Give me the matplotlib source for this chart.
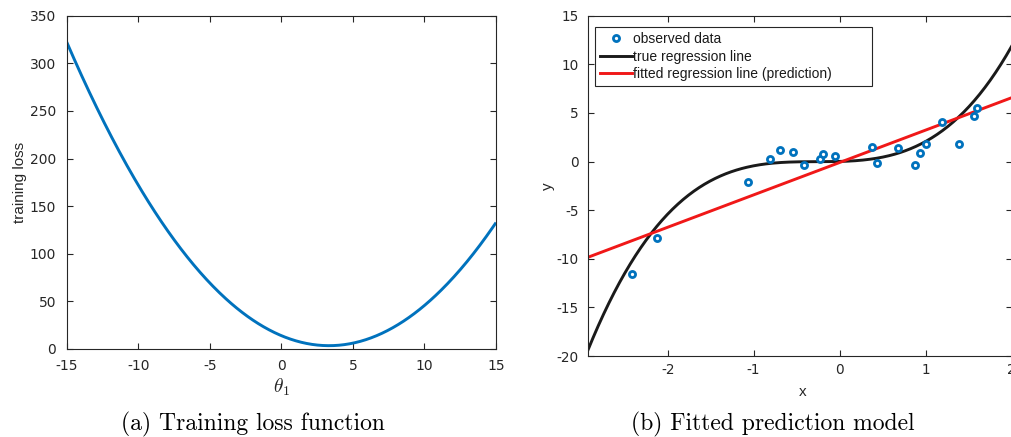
import numpy as np
import matplotlib

matplotlib.use("Agg")
import matplotlib.pyplot as plt

plt.rcParams["font.family"] = ["Liberation Sans", "DejaVu Sans"]
plt.rcParams["mathtext.fontset"] = "cm"

FIG_W, FIG_H = 1011, 437
AX_COLOR = "#262626"
BLUE = "#0072BD"
TICK_FONT = "DejaVu Sans"

# (a) training loss as a quadratic in theta_1: curvature, minimiser, minimum value
loss_curvature = 0.949
loss_argmin = 3.33
loss_min = 3.5
theta_range = [-15, 15]
loss_yticks = [0, 50, 100, 150, 200, 250, 300, 350]
theta_ticks = [-15, -10, -5, 0, 5, 10, 15]

# (b) observed samples
x_obs = [-2.42, -2.12, -1.06, -0.81, -0.69, -0.54, -0.41, -0.23, -0.19, -0.05,
         0.38, 0.43, 0.68, 0.88, 0.94, 1.01, 1.19, 1.39, 1.56, 1.60]
y_obs = [-11.57, -7.88, -2.15, 0.28, 1.17, 0.99, -0.34, 0.31, 0.79, 0.62,
         1.54, -0.17, 1.38, -0.34, 0.93, 1.79, 4.08, 1.79, 4.65, 5.47]

# true regression curve (cubic, highest power first) and fitted line
true_coeffs = [1.02, 0.80, 0.23, 0.01]
fit_slope = 3.33
fit_intercept = -0.10
x_range = [-2.93, 2.0]
y_range = [-20, 15]
x_ticks = [-2, -1, 0, 1, 2]
y_ticks = [-20, -15, -10, -5, 0, 5, 10, 15]


def px_axes(fig, left, top, right, bottom):
    """Add axes given a box in figure pixels (origin top-left)."""
    return fig.add_axes([left / FIG_W, 1 - bottom / FIG_H,
                         (right - left) / FIG_W, (bottom - top) / FIG_H])


def style_axes(ax, size, xpad, ypad):
    for spine in ax.spines.values():
        spine.set_color(AX_COLOR)
        spine.set_linewidth(0.8)
    ax.tick_params(direction="in", length=4.5, width=0.8, colors=AX_COLOR,
                   top=True, right=True)
    ax.tick_params(axis="x", pad=xpad)
    ax.tick_params(axis="y", pad=ypad)
    for label in ax.get_xticklabels() + ax.get_yticklabels():
        label.set_family(TICK_FONT)
        label.set_fontsize(size)


fig = plt.figure(figsize=(FIG_W / 100, FIG_H / 100), dpi=100)

# ---- (a) training loss ----
ax1 = px_axes(fig, 66.7, 15.7, 496, 349)
theta = np.linspace(theta_range[0], theta_range[1], 400)
loss = loss_curvature * (theta - loss_argmin) ** 2 + loss_min
ax1.plot(theta, loss, color=BLUE, lw=2.1, solid_capstyle="butt")
ax1.set_xlim(theta_range)
ax1.set_ylim(0, 350)
ax1.set_xticks(theta_ticks)
ax1.set_yticks(loss_yticks)
ax1.set_xticklabels([str(t) for t in theta_ticks])
ax1.set_yticklabels([str(t) for t in loss_yticks])
style_axes(ax1, 10, xpad=7.2, ypad=7.6)
ax1.set_xlabel(r"$\theta_1$", fontsize=14, color=AX_COLOR, labelpad=2.5)
ax1.set_ylabel("training loss", fontsize=11, color=AX_COLOR, labelpad=2.2)

# ---- (b) fitted prediction model ----
ax2 = px_axes(fig, 587.7, 15.7, 1011.5, 356)
xs = np.linspace(x_range[0], x_range[1], 400)
ax2.plot(x_obs, y_obs, "o", ls="none", mfc="white", mec=BLUE, mew=2.0, ms=4.4,
         label="observed data", zorder=3)
ax2.plot(xs, np.polyval(true_coeffs, xs), color="#1a1a1a", lw=2.1,
         label="true regression line")
ax2.plot(xs, fit_slope * xs + fit_intercept, color="#f01818", lw=2.1,
         label="fitted regression line (prediction)")
ax2.set_xlim(x_range)
ax2.set_ylim(y_range)
ax2.set_xticks(x_ticks)
ax2.set_yticks(y_ticks)
ax2.set_xticklabels([str(t) for t in x_ticks])
ax2.set_yticklabels([str(t) for t in y_ticks])
style_axes(ax2, 9.8, xpad=4.8, ypad=6.6)
ax2.set_xlabel("x", fontsize=11, color=AX_COLOR)
ax2.xaxis.set_label_coords(0.508, -0.085)
ax2.set_ylabel("y", fontsize=11, color=AX_COLOR, labelpad=1)

leg_left, leg_top, leg_right, leg_bottom = 595, 27.3, 872, 84
leg = ax2.legend(loc="upper left",
                 bbox_to_anchor=(leg_left / FIG_W, 1 - leg_bottom / FIG_H,
                                 (leg_right - leg_left) / FIG_W,
                                 (leg_bottom - leg_top) / FIG_H),
                 bbox_transform=fig.transFigure, mode="expand", borderaxespad=0,
                 fontsize=10, handlelength=2.3, handletextpad=0.1,
                 labelspacing=0.25, borderpad=0.35, fancybox=False,
                 framealpha=1, edgecolor=AX_COLOR)
leg.get_frame().set_linewidth(0.8)
for text in leg.get_texts():
    text.set_color("#1a1a1a")

# subfigure captions
fig.text(253 / FIG_W, 1 - 424 / FIG_H, "(a) Training loss function",
         family="cmr10", fontsize=17, ha="center", va="center")
fig.text(773 / FIG_W, 1 - 424 / FIG_H, "(b) Fitted prediction model",
         family="cmr10", fontsize=17, ha="center", va="center")

fig.savefig("out.png", dpi=100)
plt.close(fig)
